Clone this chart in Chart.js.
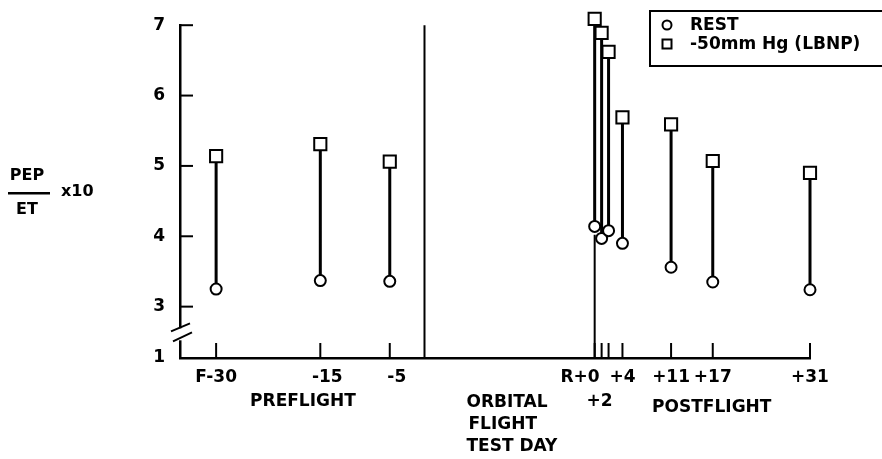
<!DOCTYPE html>
<html>
<head>
<meta charset="utf-8">
<script src="https://cdn.jsdelivr.net/npm/chart.js@4/dist/chart.umd.min.js"></script>
<style>
  html, body { margin: 0; padding: 0; background: #fff; }
  #wrap { width: 882px; height: 459px; position: relative; }
</style>
</head>
<body>
<div id="wrap"><canvas id="c"></canvas></div>
<script>
// Preflight sessions (days before launch)
const preflightDays = [-30, -15, -5];
const preflightLabels = ['F-30', '-15', '-5'];
const preflightRest = [3.25, 3.37, 3.36];
const preflightLbnp = [5.14, 5.31, 5.06];

// Postflight sessions (days after recovery)
const postflightDays = [0, 1, 2, 4, 11, 17, 31];
const postflightLabels = ['R+0', '', '+2', '+4', '+11', '+17', '+31'];
const postflightRest = [4.14, 3.97, 4.08, 3.90, 3.56, 3.35, 3.24];
const postflightLbnp = [7.09, 6.89, 6.62, 5.69, 5.59, 5.07, 4.90];

// Y axis: 3..7 drawn to scale, with a broken segment down to 1
const yTickValues = [3, 4, 5, 6, 7];
const yBaseLabel = '1';

// Axis units: launch sits at 0, recovery is placed RECOVERY_POS units later
const LAUNCH_POS = 0;
const RECOVERY_POS = 24.5;
const Y_BASE = 2.27;   // where the "1" of the broken axis falls
const Y_TOP = 7;

const FONT = '"DejaVu Sans", sans-serif';

const prePos = preflightDays.map(d => d);
const postPos = postflightDays.map(d => RECOVERY_POS + d);
const allPos = prePos.concat(postPos);
const allRest = preflightRest.concat(postflightRest);
const allLbnp = preflightLbnp.concat(postflightLbnp);
const allLabels = preflightLabels.concat(postflightLabels);

const restPoints = allPos.map((x, i) => ({ x, y: allRest[i] }));
const lbnpPoints = allPos.map((x, i) => ({ x, y: allLbnp[i] }));

// vertical stems joining rest and LBNP values, broken by null gaps
const stemPoints = [];
allPos.forEach((x, i) => {
  stemPoints.push({ x, y: allRest[i] }, { x, y: allLbnp[i] }, { x, y: null });
});

// launch line and recovery marker
const markerPoints = [
  { x: LAUNCH_POS, y: Y_BASE }, { x: LAUNCH_POS, y: Y_TOP }, { x: LAUNCH_POS, y: null },
  { x: RECOVERY_POS, y: Y_BASE }, { x: RECOVERY_POS, y: postflightRest[0] - 0.12 }
];

const decorations = {
  id: 'decorations',
  afterDraw(chart) {
    const ctx = chart.ctx;
    const xs = chart.scales.x, ys = chart.scales.y;
    const x0 = xs.left, yb = ys.bottom;
    ctx.save();
    ctx.strokeStyle = '#000';
    ctx.fillStyle = '#000';
    ctx.lineWidth = 2;
    ctx.lineCap = 'butt';

    // inward y ticks
    yTickValues.forEach(v => {
      const y = ys.getPixelForValue(v);
      ctx.beginPath(); ctx.moveTo(x0, y); ctx.lineTo(x0 + 13, y); ctx.stroke();
    });
    // inward x ticks
    allPos.forEach(p => {
      const x = xs.getPixelForValue(p);
      ctx.beginPath(); ctx.moveTo(x, yb); ctx.lineTo(x, yb - 15); ctx.stroke();
    });

    // axis break
    const yBreak = (ys.getPixelForValue(3) + yb) / 2 + 2;
    ctx.fillStyle = '#fff';
    ctx.fillRect(x0 - 4, yBreak - 6, 8, 12);
    ctx.strokeStyle = '#000';
    ctx.lineWidth = 2;
    ctx.beginPath();
    ctx.moveTo(x0 - 9, yBreak - 3); ctx.lineTo(x0 + 10, yBreak - 11);
    ctx.moveTo(x0 - 7, yBreak + 7); ctx.lineTo(x0 + 12, yBreak - 2);
    ctx.stroke();

    // x tick labels
    ctx.fillStyle = '#000';
    ctx.font = 'bold 17px ' + FONT;
    ctx.textBaseline = 'middle';
    allLabels.forEach((lab, i) => {
      if (!lab) return;
      const x = xs.getPixelForValue(allPos[i]);
      if (lab === 'R+0') {
        ctx.textAlign = 'right';
        ctx.fillText(lab, x + 5, yb + 20);
      } else if (lab === '+2') {
        ctx.textAlign = 'center';
        ctx.fillText(lab, x - 9, yb + 44);
      } else {
        ctx.textAlign = 'center';
        ctx.fillText(lab, x + (allPos[i] < 0 && allPos[i] > -30 ? 7 : 0), yb + 20);
      }
    });

    // group captions
    ctx.textAlign = 'center';
    ctx.fillText('PREFLIGHT', (xs.getPixelForValue(prePos[0]) + xs.getPixelForValue(prePos[2])) / 2, yb + 44);
    ctx.fillText('POSTFLIGHT', xs.getPixelForValue(RECOVERY_POS + 17) - 1, yb + 50);
    ctx.textAlign = 'left';
    const ox = xs.getPixelForValue(LAUNCH_POS) + 42;
    ctx.fillText('ORBITAL', ox, yb + 45);
    ctx.fillText('FLIGHT', ox + 2, yb + 67);
    ctx.fillText('TEST DAY', ox, yb + 89);

    // y axis title: PEP / ET x10
    ctx.font = 'bold 16px ' + FONT;
    ctx.textAlign = 'center';
    ctx.fillText('PEP', 27, 176);
    ctx.fillText('ET', 27, 210);
    ctx.fillRect(8, 192, 42, 2.5);
    ctx.textAlign = 'left';
    ctx.fillText('x10', 61, 192);

    // legend box
    const lx = 650, ly = 11;
    ctx.lineWidth = 2;
    ctx.strokeRect(lx, ly, 250, 55);
    ctx.font = 'bold 17px ' + FONT;
    ctx.textAlign = 'left';
    const items = [chart.data.datasets[0], chart.data.datasets[1]];
    items.forEach((ds, i) => {
      const cy = ly + 14 + i * 19;
      ctx.fillStyle = '#fff';
      ctx.beginPath();
      if (ds.pointStyle === 'circle') {
        ctx.arc(lx + 17, cy, 4.5, 0, Math.PI * 2);
      } else {
        ctx.rect(lx + 12.5, cy - 4.5, 9, 9);
      }
      ctx.fill(); ctx.stroke();
      ctx.fillStyle = '#000';
      ctx.fillText(ds.label, lx + 40, cy + 1);
    });
    ctx.restore();
  }
};

new Chart(document.getElementById('c'), {
  type: 'scatter',
  data: {
    datasets: [
      {
        label: 'REST', data: restPoints, pointStyle: 'circle', pointRadius: 5.5,
        backgroundColor: '#fff', borderColor: '#000', borderWidth: 2, order: 0, clip: false
      },
      {
        label: '-50mm Hg (LBNP)', data: lbnpPoints, pointStyle: 'rect', pointRadius: 8.6,
        backgroundColor: '#fff', borderColor: '#000', borderWidth: 2, order: 1, clip: false
      },
      {
        label: 'stems', data: stemPoints, showLine: true, spanGaps: false, pointRadius: 0,
        borderColor: '#000', borderWidth: 3, order: 2, clip: false
      },
      {
        label: 'markers', data: markerPoints, showLine: true, spanGaps: false, pointRadius: 0,
        borderColor: '#000', borderWidth: 2, order: 3, clip: false
      }
    ]
  },
  options: {
    responsive: true,
    maintainAspectRatio: false,
    animation: false,
    layout: { padding: { top: 23, right: 72, left: 0, bottom: 0 } },
    plugins: { legend: { display: false }, tooltip: { enabled: false } },
    scales: {
      x: {
        type: 'linear', min: -35.2, max: RECOVERY_POS + 31,
        grid: { display: false, drawTicks: false },
        border: { display: true, color: '#000', width: 2.5 },
        ticks: { display: false },
        afterFit(scale) { scale.height = 101; }
      },
      y: {
        type: 'linear', min: Y_BASE, max: Y_TOP,
        grid: { display: false, drawTicks: false },
        border: { display: true, color: '#000', width: 2.5 },
        afterBuildTicks(scale) {
          scale.ticks = [Y_BASE].concat(yTickValues).map(v => ({ value: v }));
        },
        ticks: {
          padding: 15, color: '#000',
          font: { family: FONT, weight: 'bold', size: 17 },
          callback: (v) => (v === Y_BASE ? yBaseLabel : String(v))
        },
        afterFit(scale) { scale.width = 180; }
      }
    }
  },
  plugins: [decorations]
});
</script>
</body>
</html>
